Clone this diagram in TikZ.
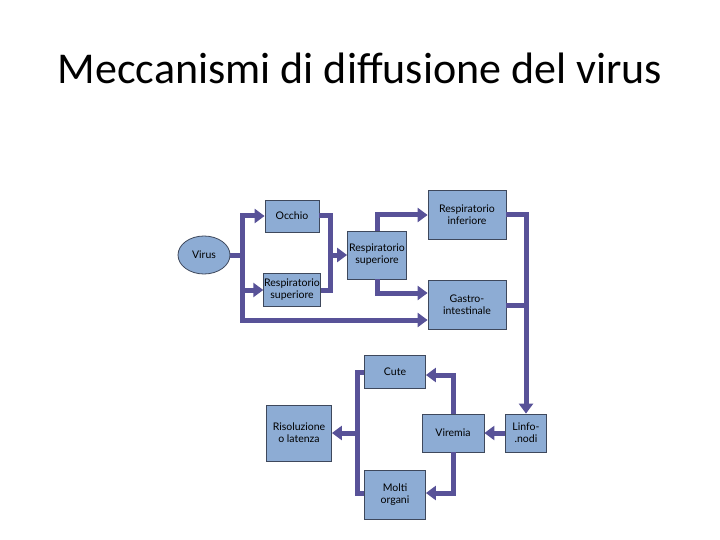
\documentclass[tikz,border=0pt]{standalone}
\usepackage{fontspec}
\setmainfont{Lato}
\newfontfamily\titlefont{Carlito}
\usetikzlibrary{arrows.meta, shapes.geometric}

\definecolor{caja}{RGB}{141,172,212}
\definecolor{borde}{RGB}{62,72,92}
\definecolor{tubo}{RGB}{88,82,152}

\begin{document}
\begin{tikzpicture}[
        x=1pt, y=-1pt,
        etapa/.style={draw=borde, line width=0.8pt, fill=caja, align=center, inner sep=0.5pt, font=\fontsize{10.5}{12}\selectfont},
        conducto/.style={draw=tubo, line width=5pt},
        flecha/.style={conducto, -{Triangle[width=14pt, length=10pt]}}
    ]
        \useasboundingbox (0,0) rectangle (720,540);
        \node[font=\titlefont\fontsize{44}{50}\selectfont] (titulo) at (360,68) {Meccanismi di diffusione del virus};

        \node[etapa, ellipse, minimum width=52pt, minimum height=38pt] (virus) at (204,255) {Virus};
        \node[etapa, minimum width=54pt, minimum height=32pt] (occhio) at (292,216) {Occhio};
        \node[etapa, minimum width=55pt, minimum height=33pt] (rsl) at (292,290) {Respiratorio\\superiore};
        \node[etapa, minimum width=59pt, minimum height=48pt] (rsm) at (377,255) {Respiratorio\\superiore};
        \node[etapa, minimum width=78pt, minimum height=49pt] (rinf) at (467,215) {Respiratorio\\inferiore};
        \node[etapa, minimum width=78pt, minimum height=49pt] (gastro) at (467,305) {Gastro-\\intestinale};
        \node[etapa, minimum width=41pt, minimum height=38pt] (linfo) at (526,433) {Linfo-\\.nodi};
        \node[etapa, minimum width=62pt, minimum height=38pt] (viremia) at (453,433) {Viremia};
        \node[etapa, minimum width=61pt, minimum height=33pt] (cute) at (395,372) {Cute};
        \node[etapa, minimum width=61pt, minimum height=49pt] (molti) at (395,495) {Molti\\organi};
        \node[etapa, minimum width=65pt, minimum height=56pt] (risol) at (299,433) {Risoluzione\\o latenza};

        \coordinate (jv) at (242,255);
        \coordinate (jo) at (330,255);
        \coordinate (jr) at (357,433);

        \draw[conducto] (virus.east) -- (jv);
        \draw[flecha] (jv) |- (occhio.west);
        \draw[flecha] (jv) |- (rsl.west);
        \draw[flecha] (jv) |- ([yshift=-15pt]gastro.west);
        \draw[conducto] (occhio.east) -| (jo);
        \draw[conducto] (rsl.east) -| (jo);
        \draw[flecha] (jo) -- (rsm.west);
        \draw[flecha] (rsm.north) |- (rinf.west);
        \draw[flecha] (rsm.south) |- ([yshift=12pt]gastro.west);
        \draw[flecha] (rinf.east) -| (linfo.north);
        \draw[conducto] (gastro.east) -- (gastro.east -| linfo.north);
        \draw[flecha] (linfo.west) -- (viremia.east);
        \draw[flecha] (viremia.north) |- ([yshift=-3pt]cute.east);
        \draw[flecha] (viremia.south) |- ([yshift=2pt]molti.east);
        \draw[conducto] (cute.west) -| (jr);
        \draw[conducto] ([yshift=2pt]molti.west) -| (jr);
        \draw[flecha] (jr) -- (risol.east);
    \end{tikzpicture}
\end{document}
